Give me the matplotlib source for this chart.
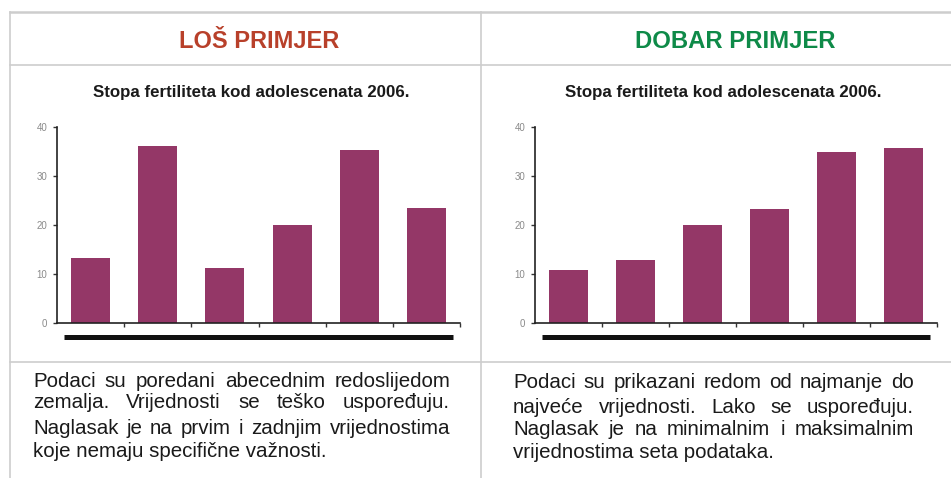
import matplotlib
matplotlib.use("Agg")
import matplotlib.pyplot as plt
from matplotlib.lines import Line2D

# ---- data ----
header_left = "LOŠ PRIMJER"
header_right = "DOBAR PRIMJER"
chart_title = "Stopa fertiliteta kod adolescenata 2006."
bad_values = [13.2, 36.1, 11.3, 20.1, 35.3, 23.5]
good_values = [10.9, 12.8, 20.1, 23.2, 35.0, 35.8]
y_ticks = [0, 10, 20, 30, 40]
text_left = ["Podaci su poredani abecednim redoslijedom",
             "zemalja. Vrijednosti se teško uspoređuju.",
             "Naglasak je na prvim i zadnjim vrijednostima",
             "koje nemaju specifične važnosti."]
text_right = ["Podaci su prikazani redom od najmanje do",
              "najveće vrijednosti. Lako se uspoređuju.",
              "Naglasak je na minimalnim i maksimalnim",
              "vrijednostima seta podataka."]

W, H = 951, 478
fig = plt.figure(figsize=(W / 100, H / 100), dpi=100)
fig.patch.set_facecolor("white")
plt.rcParams['font.family'] = ['Liberation Sans', 'DejaVu Sans']

BAR = "#943767"
GRID = "#cdcdcd"

def fx(px):
    return px / W

def fy(py):
    return 1 - py / H

# panel frame lines
for (x0, y0, x1, y1, lw) in [(10, 12, 951, 12, 1.8), (10, 12, 10, 478, 1.2),
                             (481, 12, 481, 478, 1.2), (10, 65, 951, 65, 1.2),
                             (10, 362, 951, 362, 1.2)]:
    fig.add_artist(Line2D([fx(x0), fx(x1)], [fy(y0), fy(y1)], color=GRID, lw=lw))

# headers
fig.text(fx(259), fy(41), header_left, color="#b8402a", fontsize=17,
         fontweight="bold", ha="center", va="center")
fig.text(fx(735), fy(41), header_right, color="#0e8a48", fontsize=17.2,
         fontweight="bold", ha="center", va="center")

# chart titles
fig.text(fx(251), fy(93), chart_title, color="#1a1a1a", fontsize=12.2,
         fontweight="bold", ha="center", va="center")
fig.text(fx(723), fy(93), chart_title, color="#1a1a1a", fontsize=12.2,
         fontweight="bold", ha="center", va="center")

def make_axes(x0, x1, values):
    y_top, y_bot = 127, 323
    ax = fig.add_axes([fx(x0), fy(y_bot), (x1 - x0) / W, (y_bot - y_top) / H])
    n = len(values)
    xs = [i + 0.5 for i in range(n)]
    ax.bar(xs, values, width=0.58, color=BAR, zorder=2)
    ax.set_xlim(0, n)
    ax.set_ylim(0, 40)
    ax.set_yticks(y_ticks)
    ax.set_yticklabels([str(t) for t in y_ticks], fontsize=7, color="#8a8a8a")
    ax.set_xticks(range(1, n + 1))
    ax.set_xticklabels([])
    ax.tick_params(axis="y", length=3, width=1, pad=4, color="#333333")
    ax.tick_params(axis="x", length=3, width=1, color="#333333")
    for s in ["top", "right"]:
        ax.spines[s].set_visible(False)
    for s in ["left", "bottom"]:
        ax.spines[s].set_color("#222222")
        ax.spines[s].set_linewidth(1.2)
    ax.set_facecolor("none")
    # thick black underline
    ax.plot([0.017 * n, 0.983 * n], [-2.9, -2.9], color="#111111", lw=3.6,
            solid_capstyle="butt", clip_on=False, transform=ax.transData)
    return ax

make_axes(57, 460, bad_values)
make_axes(535, 937, good_values)

# justified paragraph text
fig.canvas.draw()
renderer = fig.canvas.get_renderer()

def justified(lines, x_left, x_right, ys, size=14.8):
    for i, (line, y) in enumerate(zip(lines, ys)):
        words = line.split(" ")
        last = i == len(lines) - 1
        if last:
            fig.text(fx(x_left), fy(y), line, fontsize=size, color="#1a1a1a",
                     ha="left", va="baseline")
            continue
        widths = []
        for w in words:
            t = fig.text(0, 0, w, fontsize=size)
            widths.append(t.get_window_extent(renderer).width)
            t.remove()
        gap = (x_right - x_left - sum(widths)) / (len(words) - 1)
        x = x_left
        for w, wd in zip(words, widths):
            fig.text(fx(x), fy(y), w, fontsize=size, color="#1a1a1a",
                     ha="left", va="baseline")
            x += wd + gap

justified(text_left, 33, 450, [387, 408, 434, 457])
justified(text_right, 513, 914, [388, 413, 435, 458])

fig.savefig("out.png", dpi=100, facecolor="white")
